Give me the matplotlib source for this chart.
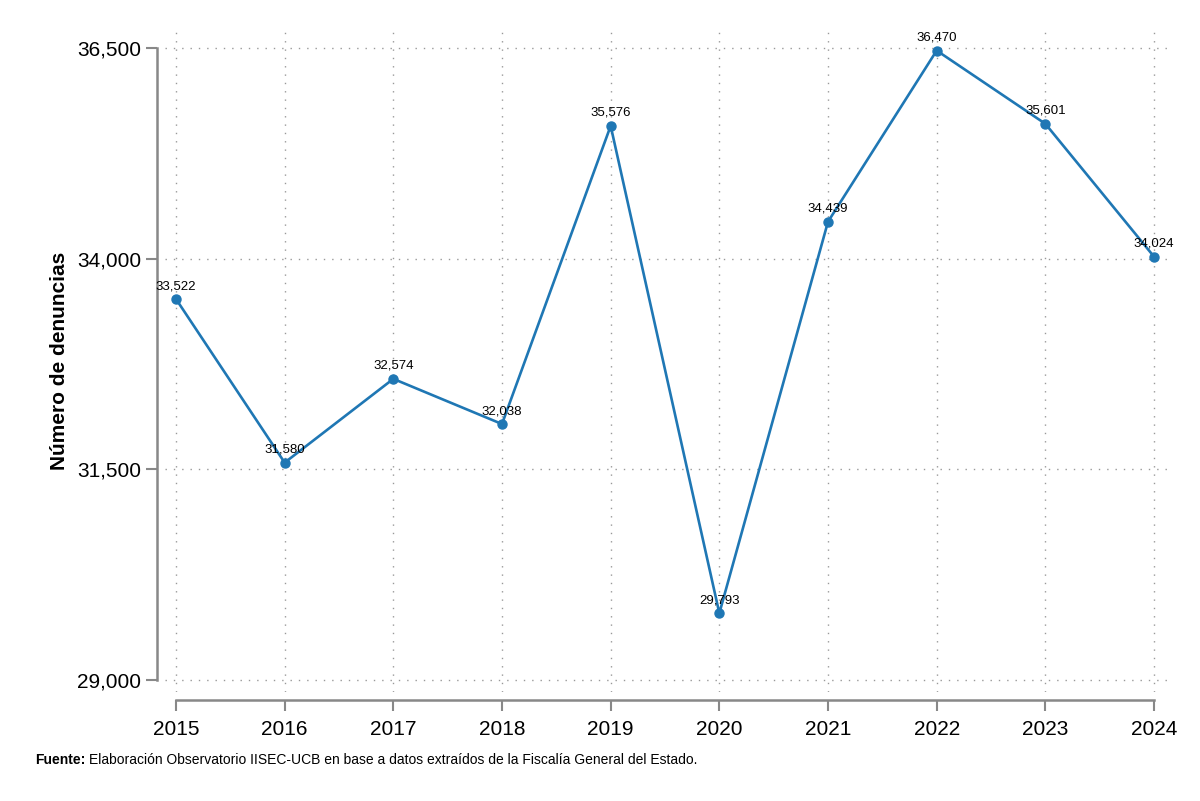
import matplotlib.pyplot as plt
from matplotlib import font_manager

years = [2015, 2016, 2017, 2018, 2019, 2020, 2021, 2022, 2023, 2024]
denuncias = [33522, 31580, 32574, 32038, 35576, 29793, 34439, 36470, 35601, 34024]
yticks = [29000, 31500, 34000, 36500]

names = {f.name for f in font_manager.fontManager.ttflist}
fam = 'Liberation Sans Narrow' if 'Liberation Sans Narrow' in names else 'Liberation Sans'
plt.rcParams['font.family'] = [fam, 'DejaVu Sans']

fig = plt.figure(figsize=(12, 8.01), dpi=100)
ax = fig.add_axes([165 / 1200, 1 - 692 / 801, 1005 / 1200, 662 / 801])

blue = '#1f77b4'
ax.plot(years, denuncias, color=blue, lw=1.9, marker='o', ms=6.5, zorder=3)
for x, y in zip(years, denuncias):
    ax.annotate(f'{y:,}', (x, y), xytext=(0, 5), textcoords='offset points',
                ha='center', va='bottom', fontsize=9.5)

ax.set_xlim(2014.899, 2024.147)
ax.set_ylim(28858, 36714)
ax.set_xticks(years)
ax.set_yticks(yticks)
ax.set_yticklabels([f'{v:,}' for v in yticks])
ax.grid(True, ls=(0, (1, 5)), color='#999999', lw=1)
ax.set_axisbelow(True)

for s in ['top', 'right']:
    ax.spines[s].set_visible(False)
ax.spines['left'].set_position(('outward', 6))
ax.spines['bottom'].set_position(('outward', 6))
ax.spines['left'].set_bounds(29000, 36500)
ax.spines['bottom'].set_bounds(2015, 2024)
for s in ['left', 'bottom']:
    ax.spines[s].set_color('#888888')
    ax.spines[s].set_linewidth(1.8)
ax.tick_params(axis='both', length=8, width=1.5, color='#888888', labelsize=15)
ax.tick_params(axis='y', pad=3)
ax.tick_params(axis='x', pad=6)

ax.set_ylabel('Número de denuncias', fontsize=15, fontweight='bold', labelpad=6)

fy = 1 - 760 / 801
t1 = fig.text(35 / 1200, fy, 'Fuente:', fontsize=10, fontweight='bold', va='center')
fig.canvas.draw()
bb = t1.get_window_extent(renderer=fig.canvas.get_renderer())
fig.text((bb.x1 + 4) / 1200, fy,
         'Elaboración Observatorio IISEC-UCB en base a datos extraídos de la Fiscalía General del Estado.',
         fontsize=10, va='center')

fig.savefig('out.png', dpi=100)
